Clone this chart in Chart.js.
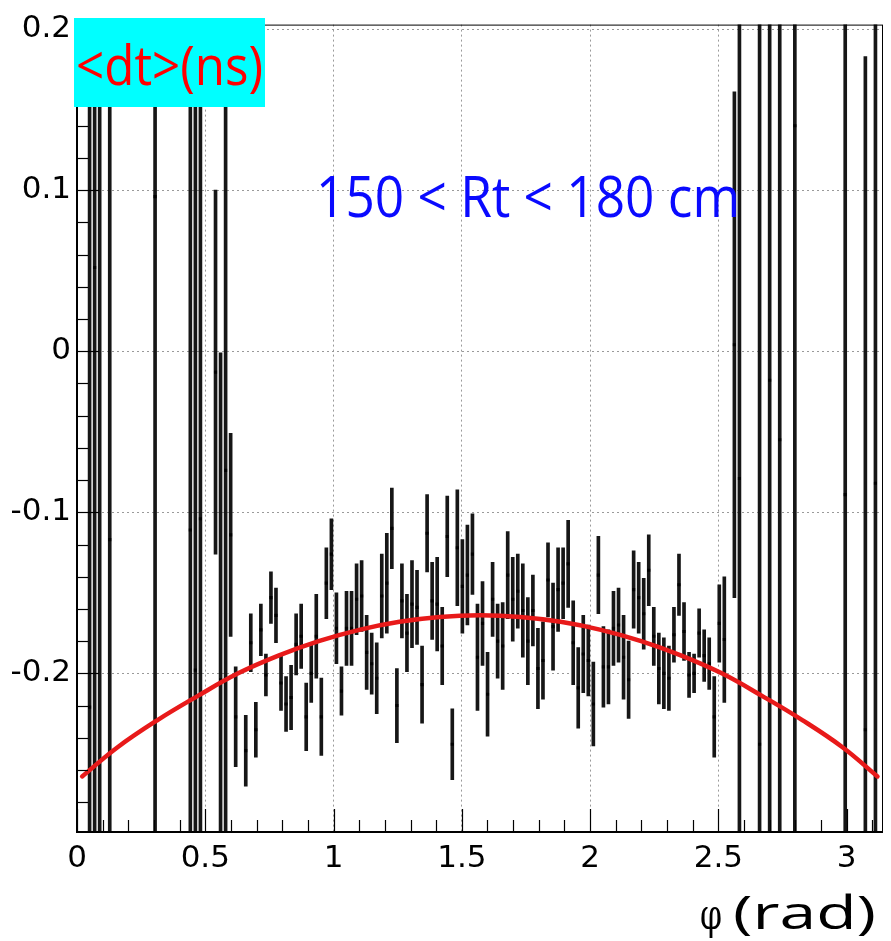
<!DOCTYPE html>
<html>
<head>
<meta charset="utf-8">
<script src="https://cdn.jsdelivr.net/npm/chart.js@4/dist/chart.umd.min.js"></script>
<style>
  html, body { margin:0; padding:0; background:#fff; }
  canvas { display:block; }
</style>
</head>
<body>
<canvas id="c" width="891" height="941"></canvas>
<script>
// histogram: 160 bins over [0, pi], only the filled bins are listed
const NBINS = 160;
const PHI_MAX = Math.PI;

const binIdx = [2, 3, 4, 6, 15, 22, 23, 24, 27, 28, 29, 30, 31, 33, 34,
  35, 36, 37, 38, 39, 40, 41, 42, 43, 44, 45, 46, 47, 48, 49,
  50, 51, 52, 53, 54, 55, 56, 57, 58, 59, 60, 61, 62, 63, 64,
  65, 66, 67, 68, 69, 70, 71, 72, 73, 74, 75, 76, 77, 78, 79,
  80, 81, 82, 83, 84, 85, 86, 87, 88, 89, 90, 91, 92, 93, 94,
  95, 96, 97, 98, 99, 100, 101, 102, 103, 104, 105, 106, 107, 108, 109,
  110, 111, 112, 113, 114, 115, 116, 117, 118, 119, 120, 121, 122, 123, 124,
  125, 126, 127, 128, 130, 131, 135, 137, 139, 142, 152, 156, 158];

// mean dt per bin (ns)
const dtVal = [-0.221, 0.052, 0.160, -0.117, 0.096, -0.111, -0.198, -0.104, -0.013, -0.204, -0.074, -0.114, -0.227, -0.248, -0.181,
  -0.235, -0.173, -0.201, -0.153, -0.164, -0.206, -0.219, -0.215, -0.182, -0.177, -0.227, -0.200, -0.177, -0.227, -0.144,
  -0.126, -0.172, -0.211, -0.172, -0.172, -0.154, -0.152, -0.187, -0.194, -0.203, -0.152, -0.144, -0.110, -0.220, -0.155,
  -0.175, -0.157, -0.159, -0.207, -0.113, -0.155, -0.157, -0.183, -0.115, -0.244, -0.122, -0.146, -0.139, -0.126, -0.190,
  -0.169, -0.213, -0.154, -0.180, -0.183, -0.139, -0.154, -0.149, -0.161, -0.180, -0.161, -0.197, -0.192, -0.142, -0.171,
  -0.148, -0.144, -0.132, -0.181, -0.209, -0.188, -0.192, -0.219, -0.139, -0.196, -0.196, -0.172, -0.170, -0.190, -0.204,
  -0.148, -0.153, -0.163, -0.136, -0.177, -0.197, -0.200, -0.203, -0.176, -0.145, -0.174, -0.201, -0.200, -0.175, -0.189,
  -0.194, -0.227, -0.169, -0.179, 0.004, -0.079, -0.244, -0.018, -0.055, 0.140, -0.089, -0.235, -0.082];

// error on the mean (ns)
const dtErr = [0.6, 0.6, 0.6, 0.6, 0.6, 0.6, 0.6, 0.6, 0.113, 0.203, 0.6, 0.063, 0.031, 0.022, 0.018,
  0.017, 0.016, 0.013, 0.016, 0.017, 0.017, 0.017, 0.020, 0.019, 0.020, 0.021, 0.018, 0.026, 0.024, 0.022,
  0.022, 0.022, 0.015, 0.023, 0.023, 0.022, 0.022, 0.023, 0.019, 0.022, 0.026, 0.031, 0.025, 0.023, 0.023,
  0.024, 0.027, 0.023, 0.024, 0.024, 0.024, 0.029, 0.024, 0.025, 0.022, 0.036, 0.029, 0.031, 0.025, 0.033,
  0.026, 0.026, 0.023, 0.023, 0.027, 0.027, 0.026, 0.023, 0.029, 0.027, 0.022, 0.025, 0.024, 0.023, 0.027,
  0.026, 0.022, 0.027, 0.026, 0.025, 0.024, 0.022, 0.026, 0.024, 0.025, 0.023, 0.023, 0.023, 0.026, 0.024,
  0.024, 0.022, 0.022, 0.022, 0.018, 0.022, 0.022, 0.020, 0.017, 0.019, 0.018, 0.014, 0.012, 0.015, 0.016,
  0.016, 0.025, 0.024, 0.039, 0.157, 0.6, 0.6, 0.6, 0.6, 0.6, 0.6, 0.418, 0.6];

// fitted curve
const fitPhi = [0.02, 0.157, 0.314, 0.471, 0.628, 0.785, 0.942, 1.100, 1.257, 1.414, 1.571,
  1.728, 1.885, 2.042, 2.199, 2.356, 2.513, 2.670, 2.827, 2.985, 3.12];
const fitDt = [-0.264, -0.246, -0.229, -0.214, -0.200, -0.189, -0.180, -0.173, -0.168, -0.165, -0.164,
  -0.165, -0.168, -0.173, -0.180, -0.189, -0.200, -0.214, -0.229, -0.246, -0.264];

const xTicks = [0, 0.5, 1, 1.5, 2, 2.5, 3];
const yTicks = [-0.2, -0.1, 0, 0.1, 0.2];
const Y_MIN = -0.2985, Y_MAX = 0.2028;

const binW = PHI_MAX / NBINS;
const phiC = binIdx.map(k => (k + 0.5) * binW);
const errBars = binIdx.map((k, i) => ({x: phiC[i], y: [dtVal[i] - dtErr[i], dtVal[i] + dtErr[i]]}));
const pts = binIdx.map((k, i) => ({x: phiC[i], y: dtVal[i]}));
const fitPts = fitPhi.map((p, i) => ({x: p, y: fitDt[i]}));

function fitText(ctx, txt, x, base, w, font, color){
  ctx.font = font;
  ctx.fillStyle = color;
  const m = ctx.measureText(txt).width;
  ctx.save();
  ctx.translate(x, base);
  ctx.scale(w / m, 1);
  ctx.textAlign = "left";
  ctx.textBaseline = "alphabetic";
  ctx.fillText(txt, 0, 0);
  ctx.restore();
}

// ROOT style frame, inner ticks and the text labels
const rootDeco = {
  id: "rootDeco",
  afterDraw(chart){
    const {ctx, chartArea: a, scales: {x, y}} = chart;
    ctx.save();
    ctx.strokeStyle = "#000";
    ctx.lineWidth = 1.2;
    for(let v = 0; v <= PHI_MAX + 1e-9; v += 0.1){
      const px = Math.round(x.getPixelForValue(v)) + 0.5;
      const major = Math.abs(v / 0.5 - Math.round(v / 0.5)) < 1e-6;
      ctx.beginPath();
      ctx.moveTo(px, a.bottom);
      ctx.lineTo(px, a.bottom - (major ? 23 : 12));
      ctx.stroke();
    }
    for(let v = -0.28; v <= Y_MAX + 1e-9; v += 0.02){
      const py = Math.round(y.getPixelForValue(v)) + 0.5;
      const major = Math.abs(v / 0.1 - Math.round(v / 0.1)) < 1e-6;
      ctx.beginPath();
      ctx.moveTo(a.left, py);
      ctx.lineTo(a.left + (major ? 22 : 11), py);
      ctx.stroke();
    }
    // frame
    ctx.lineWidth = 1;
    ctx.strokeRect(a.left + 0.5, a.top + 0.5, a.right - a.left - 1, a.bottom - a.top - 1);
    ctx.lineWidth = 2;
    ctx.beginPath();
    ctx.moveTo(a.left, a.top);
    ctx.lineTo(a.left, a.bottom);
    ctx.lineTo(a.right, a.bottom);
    ctx.stroke();

    // y title box
    ctx.fillStyle = "#00ffff";
    ctx.fillRect(74, 18, 191, 89);
    fitText(ctx, "<dt>(ns)", 76, 85, 187, "55px 'Open Sans'", "#ff0000");
    // cut label
    fitText(ctx, "150 < Rt < 180 cm", 316, 217, 424, "57px 'Open Sans'", "#0a0aff");
    // x title
    fitText(ctx, "\u03c6", 700, 929, 22, "42px 'DejaVu Serif'", "#000");
    fitText(ctx, "(rad)", 733, 929, 143, "46px 'Open Sans'", "#000");
    ctx.restore();
  }
};

const tickFont = {family: "'DejaVu Sans'", size: 31};

new Chart(document.getElementById("c"), {
  type: "scatter",
  data: {
    datasets: [
      {type: "line", data: fitPts, borderColor: "#e81a1a", borderWidth: 4.5, pointRadius: 0,
       tension: 0.4, fill: false, borderCapStyle: "round"},
      {type: "scatter", data: pts, backgroundColor: "#000", borderWidth: 0, pointRadius: 2.2,
       pointStyle: "rect", clip: 0},
      {type: "bar", data: errBars, backgroundColor: "#161616", barThickness: 3, borderWidth: 0, clip: 0}
    ]
  },
  options: {
    responsive: false,
    animation: false,
    events: [],
    layout: {padding: {top: 23, right: 8, left: 0, bottom: 0}},
    plugins: {legend: {display: false}, tooltip: {enabled: false}},
    scales: {
      x: {
        type: "linear", min: 0, max: PHI_MAX, offset: false,
        afterBuildTicks: s => { s.ticks = xTicks.map(v => ({value: v})); },
        afterFit: s => { s.height = 109; },
        grid: {color: "#9a9a9a", lineWidth: 1, drawTicks: false, offset: false},
        border: {display: false, dash: [2, 3]},
        ticks: {padding: 8, font: tickFont, color: "#000", maxRotation: 0, autoSkip: false,
                callback: v => String(+(+v).toFixed(2))}
      },
      y: {
        type: "linear", min: Y_MIN, max: Y_MAX, beginAtZero: false,
        afterBuildTicks: s => { s.ticks = yTicks.map(v => ({value: v})); },
        afterFit: s => { s.width = 77; },
        grid: {color: "#9a9a9a", lineWidth: 1, drawTicks: false},
        border: {display: false, dash: [2, 3]},
        ticks: {padding: 6, font: tickFont, color: "#000", autoSkip: false,
                callback: v => String(+(+v).toFixed(2))}
      }
    }
  },
  plugins: [rootDeco]
});
</script>
</body>
</html>
